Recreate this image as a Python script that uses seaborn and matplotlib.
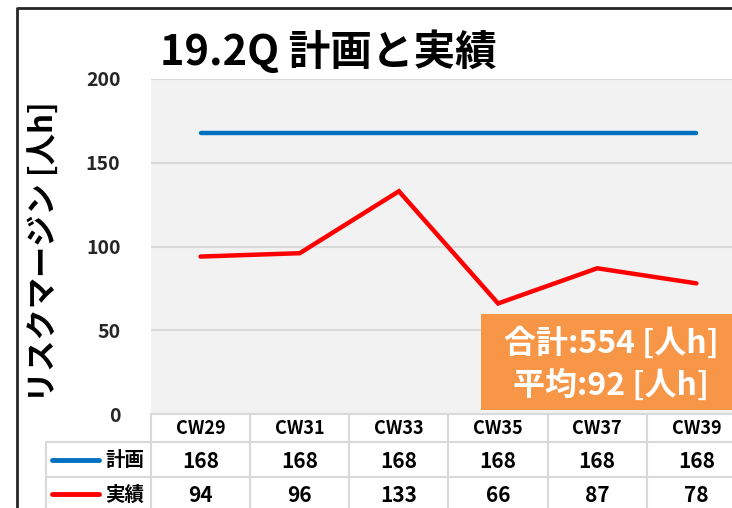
import numpy as np
import pandas as pd
import matplotlib.pyplot as plt
import seaborn as sns
from matplotlib.patches import Rectangle
from matplotlib.transforms import blended_transform_factory

weeks = ["CW29", "CW31", "CW33", "CW35", "CW37", "CW39"]
plan = [168, 168, 168, 168, 168, 168]
actual = [94, 96, 133, 66, 87, 78]
series_names = ["計画", "実績"]
total_text = "合計:554 [人h]"
avg_text = "平均:92 [人h]"

sns.set_theme(style="white")
plt.rcParams['font.family'] = ['Noto Sans CJK JP', 'DejaVu Sans']

W, H = 732, 508
fig = plt.figure(figsize=(W / 100, H / 100), dpi=100)
fig.patch.set_facecolor("white")

# axes in pixel coordinates (plot area runs past the right edge, as in the reference)
left, right, top, bottom = 151, 746, 79, 414
ax = fig.add_axes([left / W, (H - bottom) / H, (right - left) / W, (bottom - top) / H])
ax.set_facecolor("#F2F2F2")

df = pd.DataFrame({"week": weeks * 2,
                   "value": plan + actual,
                   "series": [series_names[0]] * 6 + [series_names[1]] * 6})
colors = {"計画": "#0070C0", "実績": "#FF0000"}
sns.lineplot(data=df, x="week", y="value", hue="series", palette=colors,
             linewidth=3.2, legend=False, ax=ax, sort=False)
for ln in ax.get_lines():
    ln.set_solid_capstyle("round")
    ln.set_solid_joinstyle("miter")

ax.set_xlim(-0.5, 5.5)
ax.set_ylim(0, 200)
ax.set_yticks([0, 50, 100, 150, 200])
ax.set_yticklabels(["0", "50", "100", "150", "200"], fontsize=14, fontweight="bold")
ax.tick_params(axis="y", length=0, pad=22)
ax.set_xticks([])
ax.set_xlabel("")
ax.set_ylabel("")
for y in [50, 100, 150, 200]:
    ax.axhline(y, color="#D9D9D9", lw=1.5, zorder=0)
for s in ax.spines.values():
    s.set_visible(False)

# data table below the plot
px = (right - left) / 6.0


def ay(ypix):
    return (bottom - ypix) / (bottom - top)


trans = blended_transform_factory(ax.transData, ax.transAxes)
grid_kw = dict(color="#D9D9D9", lw=1.5, transform=trans, clip_on=False)
x_left_col = -0.5 - (left - 46) / px
ax.plot([-0.5, 6.5], [ay(bottom), ay(bottom)], **grid_kw)
for yp in [442, 477]:
    ax.plot([x_left_col, 6.5], [ay(yp), ay(yp)], **grid_kw)
for i in range(7):
    ax.plot([i - 0.5, i - 0.5], [ay(bottom), ay(H + 5)], **grid_kw)
ax.plot([x_left_col, x_left_col], [ay(442), ay(H + 5)], **grid_kw)

for i, w in enumerate(weeks):
    ax.text(i, ay(429), w, transform=trans, ha="center", va="center",
            fontsize=13, fontweight="bold", color="black")
    ax.text(i, ay(461), str(plan[i]), transform=trans, ha="center", va="center",
            fontsize=15, fontweight="bold", color="black")
    ax.text(i, ay(495), str(actual[i]), transform=trans, ha="center", va="center",
            fontsize=15, fontweight="bold", color="black")

for name, yp in zip(series_names, [461, 495]):
    x0 = -0.5 - (left - 52) / px
    x1 = -0.5 - (left - 99) / px
    ax.plot([x0, x1], [ay(yp - 1), ay(yp - 1)], color=colors[name], lw=3.5,
            solid_capstyle="round", transform=trans, clip_on=False)
    ax.text(-0.5 - (left - 144) / px, ay(yp), name, transform=trans,
            ha="right", va="center", fontsize=14, fontweight="bold", color="black")

# title and axis label
fig.text(160 / W, 1 - 52 / H, "19.2Q 計画と実績", ha="left", va="center",
         fontsize=30, fontweight="bold", color="black")
fig.text(45 / W, 1 - 252 / H, "リスクマージン [人h]", ha="center", va="center",
         rotation=90, fontsize=22.5, fontweight="bold", color="black")

# summary box
fig.patches.append(Rectangle((481 / W, 1 - 410 / H), (W - 481) / W + 0.05, 96 / H,
                             transform=fig.transFigure, facecolor="#F79646",
                             edgecolor="none", zorder=5))
fig.text(611 / W, 1 - 344 / H, total_text, ha="center", va="center",
         fontsize=23, fontweight="bold", color="white", zorder=6)
fig.text(611 / W, 1 - 386 / H, avg_text, ha="center", va="center",
         fontsize=23, fontweight="bold", color="white", zorder=6)

# outer chart frame
fig.lines.append(plt.Line2D([17 / W, 17 / W, 1.01], [-0.01, 1 - 8 / H, 1 - 8 / H],
                            transform=fig.transFigure, color="#262626", lw=2))

fig.savefig("out.png", dpi=100)
